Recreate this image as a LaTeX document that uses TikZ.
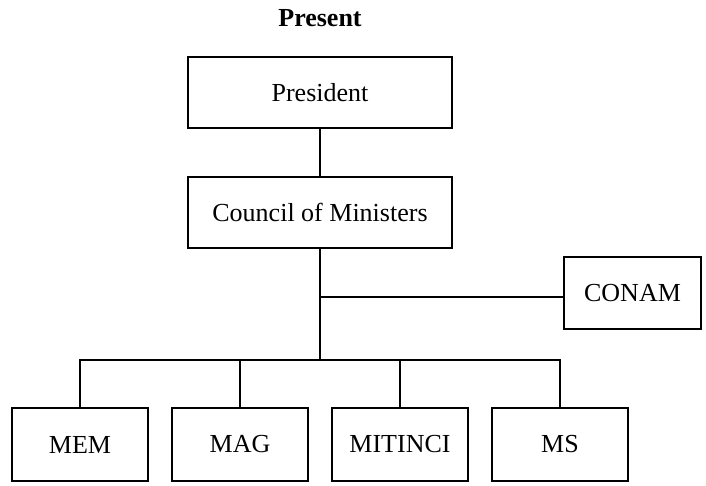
\documentclass[tikz,border=0pt]{standalone}
\usepackage{fontspec}
\setmainfont{Liberation Serif}
\begin{document}
\begin{tikzpicture}[x=1pt,y=-1pt,
  orgbox/.style={draw, line width=2pt, inner sep=0pt, font=\fontsize{26}{30}\selectfont},
  topbox/.style={orgbox, minimum width=264pt, minimum height=71pt},
  unitbox/.style={orgbox, minimum width=136pt, minimum height=73pt},
  link/.style={line width=2pt}]
\useasboundingbox (0,0) rectangle (706,485);
\node[font=\fontsize{26}{30}\selectfont\bfseries] (title) at (320,18) {Present};
\node[topbox] (pres) at (320,92.5) {President};
\node[topbox] (coun) at (320,212.5) {Council of Ministers};
\node[orgbox, minimum width=137pt, minimum height=72pt] (conam) at (632.5,293) {CONAM};
\node[unitbox] (mem) at (80,444.5) {MEM};
\node[unitbox] (mag) at (240,444.5) {MAG};
\node[unitbox] (mit) at (400,444.5) {MITINCI};
\node[unitbox] (ms) at (560,444.5) {MS};
\coordinate (bus) at (320,360);
\coordinate (tap) at ([yshift=-4pt]conam.west);
\draw[link] (pres.south) -- (coun.north);
\draw[link] (coun.south) -- (coun.south |- bus);
\draw[link] (coun.south |- tap) -- (tap);
\draw[link] (mem.north) -- (mem.north |- bus) -- (ms.north |- bus) -- (ms.north);
\draw[link] (mag.north |- bus) -- (mag.north);
\draw[link] (mit.north |- bus) -- (mit.north);
\end{tikzpicture}
\end{document}
